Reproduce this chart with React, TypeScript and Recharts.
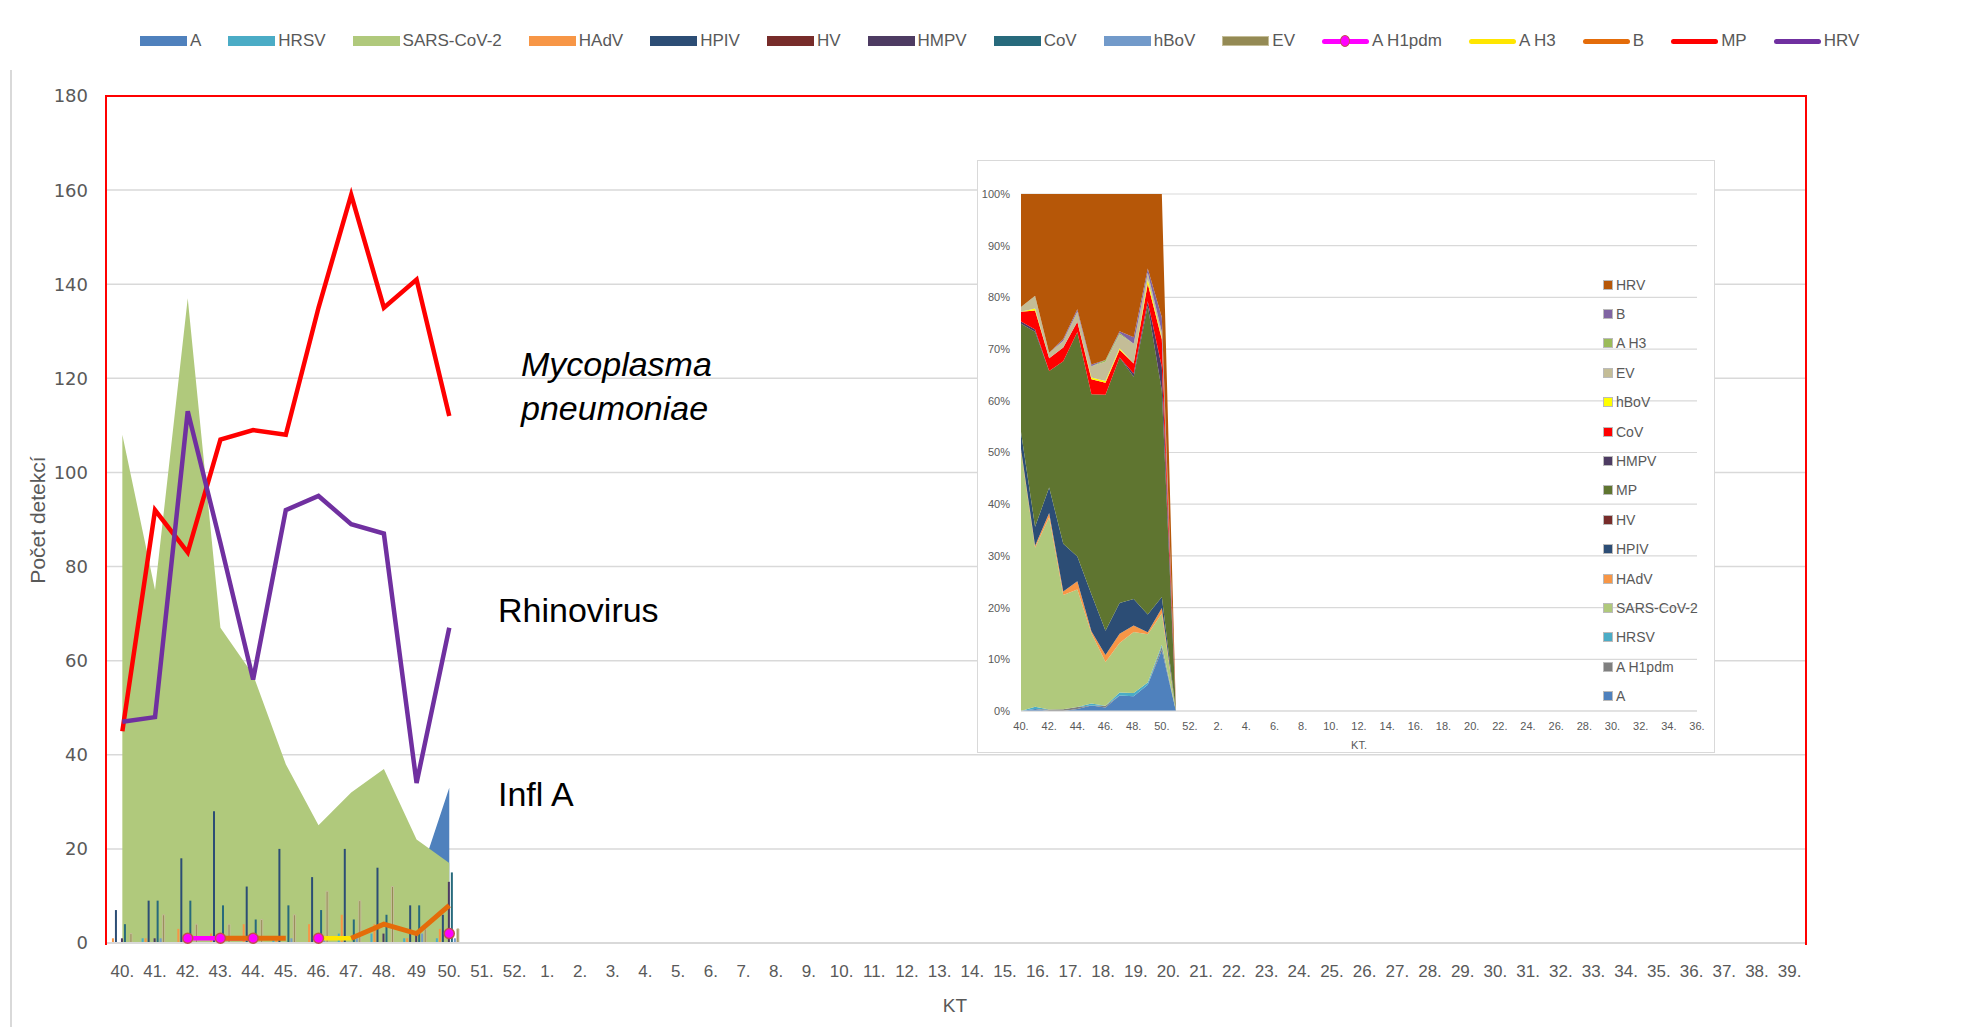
import { ComposedChart, AreaChart, Area, Bar, Line, XAxis, YAxis, CartesianGrid } from 'recharts';

// week labels of the season (KT 40 .. KT 39)
const WEEK_LABELS = [
  '40.', '41.', '42.', '43.', '44.', '45.', '46.', '47.', '48.', '49', '50.', '51.', '52.',
  '1.', '2.', '3.', '4.', '5.', '6.', '7.', '8.', '9.', '10.', '11.', '12.', '13.',
  '14.', '15.', '16.', '17.', '18.', '19.', '20.', '21.', '22.', '23.', '24.', '25.',
  '26.', '27.', '28.', '29.', '30.', '31.', '32.', '33.', '34.', '35.', '36.', '37.',
  '38.', '39.',
];
const INSET_WEEK_LABELS = WEEK_LABELS.slice(0, 49);

// detections for KT 40..50, later weeks have no data yet
const A_VALUES = [0, 1, 0, 0, 1, 3, 2, 10, 9, 12, 33];
const HRSV_VALUES = [0, 1, 0, 0, 0, 1, 0, 2, 2, 1, 1];
const SARS_VALUES = [108, 75, 137, 67, 57, 38, 25, 32, 37, 22, 17];
const HADV_VALUES = [1, 1, 3, 2, 4, 1, 4, 6, 4, 1, 3];
const HPIV_VALUES = [7, 9, 18, 28, 12, 20, 14, 20, 16, 8, 6];
const HV_VALUES = [0, 0, 0, 0, 0, 0, 0, 0, 0, 0, 0];
const HMPV_VALUES = [1, 1, 0, 0, 0, 0, 0, 0, 2, 2, 13];
const COV_VALUES = [4, 9, 9, 8, 5, 8, 7, 5, 6, 8, 15];
const HBOV_VALUES = [0, 1, 0, 0, 0, 1, 1, 1, 0, 2, 1];
const EV_VALUES = [2, 6, 4, 4, 5, 6, 11, 9, 12, 3, 3];
const H1PDM_VALUES = [null, null, 1, 1, 1, null, 1, null, null, null, 2];
const H3_VALUES = [null, null, null, null, null, null, 1, 1, null, null, null];
const B_VALUES = [null, null, null, 1, 1, 1, null, 1, 4, 2, 8];
const MP_VALUES = [45, 92, 83, 107, 109, 108, 135, 159, 135, 141, 112];
const HRV_VALUES = [47, 48, 113, 85, 56, 92, 95, 89, 87, 34, 67];

const Y_TICKS = [0, 20, 40, 60, 80, 100, 120, 140, 160, 180];
const PCT_TICKS = [0, 0.1, 0.2, 0.3, 0.4, 0.5, 0.6, 0.7, 0.8, 0.9, 1];

const SERIES: Record<string, (number | null)[]> = {
  A: A_VALUES,
  HRSV: HRSV_VALUES,
  SARS: SARS_VALUES,
  HAdV: HADV_VALUES,
  HPIV: HPIV_VALUES,
  HV: HV_VALUES,
  HMPV: HMPV_VALUES,
  CoV: COV_VALUES,
  hBoV: HBOV_VALUES,
  EV: EV_VALUES,
  H1pdm: H1PDM_VALUES,
  H3: H3_VALUES,
  B: B_VALUES,
  MP: MP_VALUES,
  HRV: HRV_VALUES,
};

const mainData = WEEK_LABELS.map((week, i) => {
  const row: Record<string, string | number | null> = { week };
  Object.entries(SERIES).forEach(([k, v]) => {
    row[k] = v[i] ?? null;
  });
  return row;
});

const insetData = INSET_WEEK_LABELS.map((week, i) => {
  const row: Record<string, string | number> = { week };
  Object.entries(SERIES).forEach(([k, v]) => {
    row[k] = v[i] ?? 0;
  });
  return row;
});

const BARS = [
  { key: 'HRSV', color: '#4bacc6' },
  { key: 'HAdV', color: '#f79646' },
  { key: 'HPIV', color: '#2c4d75' },
  { key: 'HV', color: '#772c2a' },
  { key: 'HMPV', color: '#4d3b62' },
  { key: 'CoV', color: '#276a7c' },
  { key: 'hBoV', color: '#729aca' },
  { key: 'EV', color: '#948a54', stroke: '#c4bd97' },
];

// inset: 100% stacked areas, bottom to top
const INSET_STACK = [
  { key: 'A', label: 'A', color: '#4f81bd' },
  { key: 'H1pdm', label: 'A H1pdm', color: '#7f7f7f' },
  { key: 'HRSV', label: 'HRSV', color: '#4bacc6' },
  { key: 'SARS', label: 'SARS-CoV-2', color: '#b0c97c' },
  { key: 'HAdV', label: 'HAdV', color: '#f79646' },
  { key: 'HPIV', label: 'HPIV', color: '#2c4d75' },
  { key: 'HV', label: 'HV', color: '#772c2a' },
  { key: 'MP', label: 'MP', color: '#5f7530' },
  { key: 'HMPV', label: 'HMPV', color: '#4d3b62' },
  { key: 'CoV', label: 'CoV', color: '#ff0000' },
  { key: 'hBoV', label: 'hBoV', color: '#ffff00' },
  { key: 'EV', label: 'EV', color: '#c4bd97' },
  { key: 'H3', label: 'A H3', color: '#9bbb59' },
  { key: 'B', label: 'B', color: '#8064a2' },
  { key: 'HRV', label: 'HRV', color: '#b65708' },
];

const LEGEND_ITEMS = [
  { label: 'A', kind: 'box', color: '#4f81bd' },
  { label: 'HRSV', kind: 'box', color: '#4bacc6' },
  { label: 'SARS-CoV-2', kind: 'box', color: '#b0c97c' },
  { label: 'HAdV', kind: 'box', color: '#f79646' },
  { label: 'HPIV', kind: 'box', color: '#2c4d75' },
  { label: 'HV', kind: 'box', color: '#772c2a' },
  { label: 'HMPV', kind: 'box', color: '#4d3b62' },
  { label: 'CoV', kind: 'box', color: '#276a7c' },
  { label: 'hBoV', kind: 'box', color: '#729aca' },
  { label: 'EV', kind: 'box', color: '#948a54', border: '#c4bd97' },
  { label: 'A H1pdm', kind: 'marker', color: '#ff00ff' },
  { label: 'A H3', kind: 'line', color: '#ffe600' },
  { label: 'B', kind: 'line', color: '#e46c0a' },
  { label: 'MP', kind: 'line', color: '#ff0000' },
  { label: 'HRV', kind: 'line', color: '#7030a0' },
];

const FONT = '"Liberation Sans", Arial, sans-serif';
const GREY = '#595959';

function MainLegend() {
  return (
    <div
      style={{
        position: 'absolute',
        left: 140,
        top: 31,
        display: 'flex',
        alignItems: 'center',
        gap: 27,
        fontFamily: FONT,
        fontSize: 17,
        color: GREY,
      }}
    >
      {LEGEND_ITEMS.map((it) => (
        <div key={it.label} style={{ display: 'flex', alignItems: 'center', gap: 3 }}>
          <div style={{ position: 'relative', width: 47, height: 12, display: 'flex', alignItems: 'center' }}>
            {it.kind === 'box' ? (
              <div
                style={{
                  width: 47,
                  height: 10,
                  boxSizing: 'border-box',
                  background: it.color,
                  border: `1.5px solid ${it.border ?? it.color}`,
                }}
              />
            ) : (
              <div style={{ width: 47, height: 5, borderRadius: 3, background: it.color }} />
            )}
            {it.kind === 'marker' && (
              <div
                style={{
                  position: 'absolute',
                  left: 18,
                  top: 0,
                  width: 10,
                  height: 12,
                  boxSizing: 'border-box',
                  borderRadius: '50%',
                  background: it.color,
                  border: '1.5px solid #c0504d',
                }}
              />
            )}
          </div>
          <span>{it.label}</span>
        </div>
      ))}
    </div>
  );
}

function InsetChart() {
  return (
    <div
      style={{
        position: 'absolute',
        left: 977,
        top: 160,
        width: 738,
        height: 593,
        boxSizing: 'border-box',
        background: '#fff',
        border: '1px solid #d9d9d9',
      }}
    >
      <AreaChart
        width={736}
        height={591}
        data={insetData}
        stackOffset="expand"
        margin={{ top: 33, right: 17, bottom: 0, left: 0 }}
      >
        <CartesianGrid vertical={false} stroke="#d9d9d9" strokeWidth={1.2} />
        <XAxis
          dataKey="week"
          scale="point"
          interval={1}
          tickLine={false}
          axisLine={{ stroke: '#d9d9d9' }}
          tick={{ fontSize: 11, fill: GREY, fontFamily: FONT }}
          tickMargin={5}
          height={41}
          label={{ value: 'KT.', position: 'insideBottom', offset: 3, fontSize: 11, fill: GREY, fontFamily: FONT }}
        />
        <YAxis
          width={43}
          ticks={PCT_TICKS}
          domain={[0, 1]}
          tickFormatter={(v: number) => `${Math.round(v * 100)}%`}
          axisLine={false}
          tickLine={false}
          tickMargin={5}
          tick={{ fontSize: 11, fill: GREY, fontFamily: FONT }}
        />
        {INSET_STACK.map((s) => (
          <Area
            key={s.key}
            dataKey={s.key}
            stackId="1"
            type="linear"
            stroke="none"
            fill={s.color}
            fillOpacity={1}
            isAnimationActive={false}
          />
        ))}
      </AreaChart>
      <div
        style={{
          position: 'absolute',
          left: 625,
          top: 109,
          display: 'flex',
          flexDirection: 'column',
          fontFamily: FONT,
          fontSize: 14,
          color: GREY,
        }}
      >
        {[...INSET_STACK].reverse().map((s) => (
          <div key={s.key} style={{ display: 'flex', alignItems: 'center', height: 29.4, gap: 3 }}>
            <div style={{ width: 10, height: 10, background: s.color, border: '0.5px solid #bbb', boxSizing: 'border-box' }} />
            <span>{s.label}</span>
          </div>
        ))}
      </div>
    </div>
  );
}

export default function App() {
  return (
    <div style={{ position: 'absolute', left: 0, top: 0, width: 1977, height: 1027, background: '#fff', overflow: 'hidden' }}>
      <div style={{ position: 'absolute', left: 10, top: 70, width: 2, height: 957, background: '#d9d9d9' }} />
      <ComposedChart
        width={1977}
        height={1027}
        data={mainData}
        margin={{ top: 96, right: 171, bottom: 54, left: 0 }}
        barCategoryGap="9%"
        barGap={1}
      >
        <CartesianGrid vertical={false} stroke="#d9d9d9" strokeWidth={1.5} />
        <XAxis
          dataKey="week"
          interval={0}
          tickLine={false}
          axisLine={{ stroke: '#d9d9d9', strokeWidth: 2 }}
          tick={{ fontSize: 17, fill: GREY, fontFamily: FONT }}
          tickMargin={16}
        />
        <YAxis
          domain={[0, 180]}
          ticks={Y_TICKS}
          width={106}
          axisLine={false}
          tickLine={false}
          tickMargin={12}
          tick={{ fontSize: 18, fill: GREY, fontFamily: '"DejaVu Sans", sans-serif' }}
        />
        <Area dataKey="A" type="linear" stroke="none" fill="#4f81bd" fillOpacity={1} isAnimationActive={false} />
        <Area dataKey="SARS" type="linear" stroke="none" fill="#b0c97c" fillOpacity={1} isAnimationActive={false} />
        {BARS.map((b) => (
          <Bar
            key={b.key}
            dataKey={b.key}
            fill={b.color}
            stroke={b.stroke ?? 'none'}
            strokeWidth={b.stroke ? 1 : 0}
            isAnimationActive={false}
          />
        ))}
        <Line
          dataKey="H1pdm"
          type="linear"
          stroke="#ff00ff"
          strokeWidth={4.5}
          dot={{ r: 5, fill: '#ff00ff', stroke: '#c0504d', strokeWidth: 1.5 }}
          isAnimationActive={false}
        />
        <Line dataKey="H3" type="linear" stroke="#ffe600" strokeWidth={4.5} dot={false} isAnimationActive={false} />
        <Line dataKey="B" type="linear" stroke="#e46c0a" strokeWidth={5} dot={false} isAnimationActive={false} />
        <Line dataKey="MP" type="linear" stroke="#ff0000" strokeWidth={4.5} dot={false} isAnimationActive={false} />
        <Line dataKey="HRV" type="linear" stroke="#7030a0" strokeWidth={4.5} dot={false} isAnimationActive={false} />
      </ComposedChart>

      {/* red plot area frame */}
      <div
        style={{
          position: 'absolute',
          left: 105,
          top: 95,
          width: 1698,
          height: 848,
          border: '2px solid #ff0000',
          borderBottom: 'none',
          pointerEvents: 'none',
        }}
      />

      <svg width={1977} height={1027} style={{ position: 'absolute', left: 0, top: 0, pointerEvents: 'none' }}>
        <text
          x={37}
          y={520}
          transform="rotate(-90 37 520)"
          textAnchor="middle"
          dominantBaseline="central"
          fontFamily={FONT}
          fontSize={21}
          fill={GREY}
        >
          Počet detekcí
        </text>
        <text x={955} y={1012} textAnchor="middle" fontFamily={FONT} fontSize={19} fill={GREY}>
          KT
        </text>
        <text x={521} y={376} fontFamily={FONT} fontSize={34} fontStyle="italic" fill="#000">
          Mycoplasma
        </text>
        <text x={521} y={420} fontFamily={FONT} fontSize={34} fontStyle="italic" fill="#000">
          pneumoniae
        </text>
        <text x={498} y={622} fontFamily={FONT} fontSize={34} fill="#000">
          Rhinovirus
        </text>
        <text x={498} y={806} fontFamily={FONT} fontSize={34} fill="#000">
          Infl A
        </text>
      </svg>

      <MainLegend />
      <InsetChart />
    </div>
  );
}
